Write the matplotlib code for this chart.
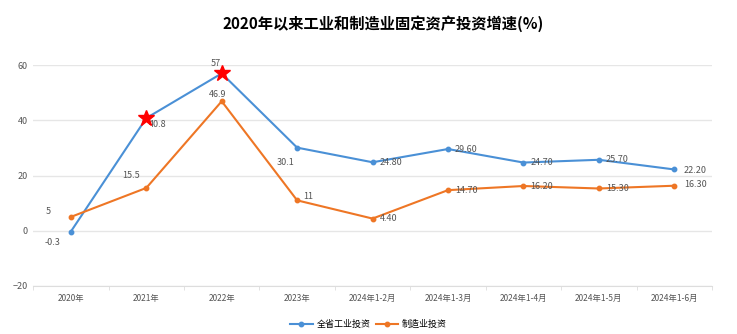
import numpy as np
import matplotlib.pyplot as plt

plt.rcParams['font.family'] = ['Noto Sans CJK SC', 'DejaVu Sans']

cats = ['2020年', '2021年', '2022年', '2023年', '2024年1-2月', '2024年1-3月',
        '2024年1-4月', '2024年1-5月', '2024年1-6月']
total = [-0.3, 40.8, 57, 30.1, 24.80, 29.60, 24.70, 25.70, 22.20]
manuf = [5, 15.5, 46.9, 11, 4.40, 14.70, 16.20, 15.30, 16.30]
total_lbl = ['-0.3', '40.8', '57', '30.1', '24.80', '29.60', '24.70', '25.70', '22.20']
manuf_lbl = ['5', '15.5', '46.9', '11', '4.40', '14.70', '16.20', '15.30', '16.30']
star_idx = [1, 2]

blue = '#4a90d6'
orange = '#ee7625'

fig = plt.figure(figsize=(7.37, 3.34), dpi=100)
ax = fig.add_axes([0.045, 0.144, 0.921, 0.661])
x = np.arange(len(cats))

ax.plot(x, total, color=blue, lw=1.5, marker='o', ms=3.2, label='全省工业投资', zorder=3)
ax.plot(x, manuf, color=orange, lw=1.5, marker='o', ms=3.2, label='制造业投资', zorder=3)
ax.plot(x[star_idx], [total[i] for i in star_idx], ls='none', marker='*',
        ms=12, color='red', zorder=4)

# label offsets (points)
t_off = [(-19, -8), (2, -4.5), (-8, 7), (-15, -11), (5, 0), (5, 0), (5, 0), (5, 0), (7, -1)]
m_off = [(-18, 4), (-17, 9), (-9, 5), (4.5, 2.5), (5, 0), (5, 0), (5, 0), (5, 0), (7, 1)]
for i in range(len(cats)):
    dx, dy = t_off[i]
    ax.annotate(total_lbl[i], (x[i], total[i]), xytext=(dx, dy), textcoords='offset points',
                fontsize=6.5, color='#555555', ha='left', va='center')
    dx, dy = m_off[i]
    ax.annotate(manuf_lbl[i], (x[i], manuf[i]), xytext=(dx, dy), textcoords='offset points',
                fontsize=6.5, color='#555555', ha='left', va='center')

ax.set_xlim(-0.5, len(cats) - 0.5)
ax.set_ylim(-20, 60)
ax.set_yticks([-20, 0, 20, 40, 60])
ax.set_xticks(x)
ax.set_xticklabels(cats)
ax.set_xticks(np.arange(-0.5, len(cats), 1), minor=True)
ax.tick_params(axis='x', which='major', length=0, labelsize=6, colors='#555555', pad=6)
ax.tick_params(axis='x', which='minor', length=3, color='#dddddd')
ax.tick_params(axis='y', length=0, labelsize=6.5, colors='#555555', pad=4)
ax.grid(axis='y', color='#e6e6e6', lw=1)
ax.set_axisbelow(True)
for s in ['top', 'right', 'left']:
    ax.spines[s].set_visible(False)
ax.spines['bottom'].set_color('#dddddd')

fig.suptitle('2020年以来工业和制造业固定资产投资增速(%)', x=0.52, y=0.955,
             fontsize=11, fontweight='bold')
fig.legend(loc='lower center', bbox_to_anchor=(0.5, -0.01), ncol=2, frameon=False,
           fontsize=6.5, handlelength=2.5, columnspacing=0.6, handletextpad=0.4)

fig.savefig('out.png', dpi=100)
